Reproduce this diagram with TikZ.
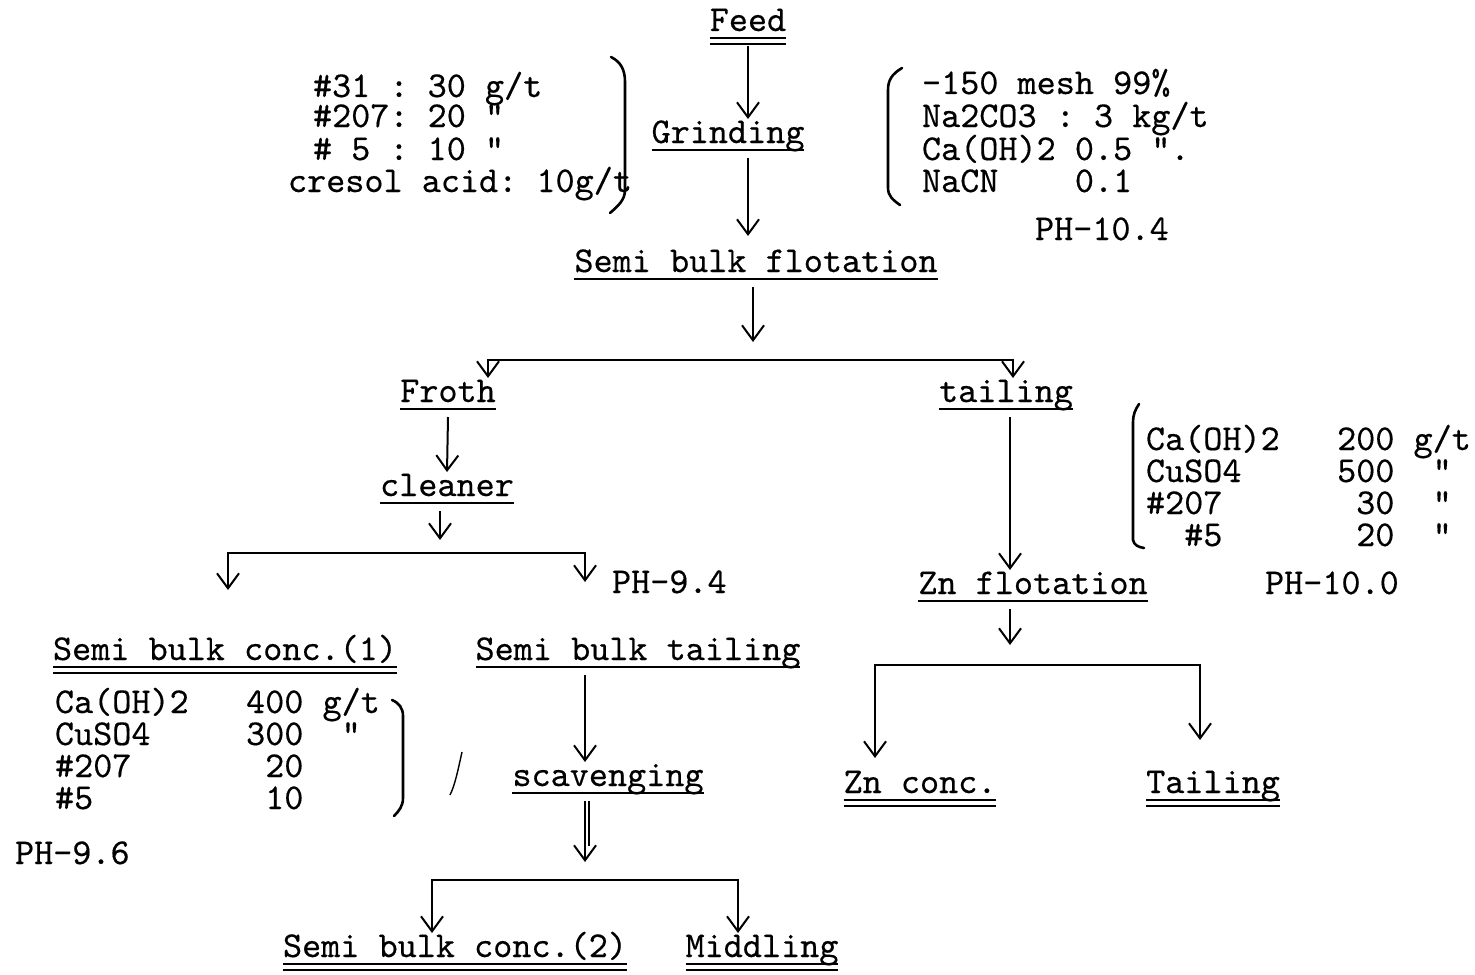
\documentclass[tikz,border=0pt]{standalone}
\usepackage{fontspec}
\setmonofont[FakeBold=0.4]{lmmono10-regular.otf}
\usetikzlibrary{arrows.meta}
\tikzset{
  tw/.style={font=\ttfamily\fontsize{18.2}{20}\selectfont, inner sep=0pt, outer sep=0pt},
  title/.style={tw, anchor=base, text height=12pt, text depth=7.5pt},
  txtline/.style={tw, anchor=base west, text height=11pt, text depth=3pt},
  tipv/.tip={Straight Barb[length=7.5pt,width=11pt,line width=1pt]},
  arr/.style={-tipv, line width=1pt},
  arrtwo/.style={tipv-tipv, line width=1.2pt, line join=miter},
  brk/.style={line width=1.3pt, line cap=round},
  ulin/.style={line width=1.1pt},
}
\newcommand\ulone[1]{\draw[ulin] ([yshift=-3.6pt]#1.base west) -- ([yshift=-3.6pt]#1.base east);}
\newcommand\ultwo[1]{\ulone{#1}\draw[ulin] ([yshift=-6.6pt]#1.base west) -- ([yshift=-6.6pt]#1.base east);}
\begin{document}
\begin{tikzpicture}[x=0.5pt,y=-0.5pt]
\useasboundingbox (0,0) rectangle (1475,974);
\fill[white] (0,0) rectangle (1475,974);

% titles
\node[title] (feed) at (748,31) {Feed};
\node[title] (grind) at (728,143) {Grinding};
\node[title] (sbf) at (756,272) {Semi bulk flotation};
\node[title] (froth) at (448,402) {Froth};
\node[title] (tail1) at (1006,402) {tailing};
\node[title] (clean) at (447,496) {cleaner};
\node[title] (sbc1) at (225,660) {Semi bulk conc.(1)};
\node[title] (sbt) at (638,660) {Semi bulk tailing};
\node[title] (scav) at (608,786) {scavenging};
\node[title] (sbc2) at (455,957) {Semi bulk conc.(2)};
\node[title] (midd) at (762,957) {Middling};
\node[title] (znf) at (1033,594) {Zn flotation};
\node[title] (znc) at (920,793) {Zn conc.};
\node[title] (tail2) at (1213,793) {Tailing};

\ultwo{feed}
\ulone{grind}
\ulone{sbf}
\ulone{froth}
\ulone{tail1}
\ulone{clean}
\ultwo{sbc1}
\ulone{sbt}
\ulone{scav}
\ultwo{sbc2}
\ultwo{midd}
\ulone{znf}
\ultwo{znc}
\ultwo{tail2}

% reagent blocks
\node[txtline] (a1) at (313,97) {\#31 : 30 g/t};
\node[txtline] (a2) at (313,127) {\#207: 20 "};
\node[txtline] (a3) at (313,160) {\# 5 : 10 "};
\node[txtline] (a4) at (288,192) {cresol acid: 10g/t};

\node[txtline] (r1) at (922,94) {-150 mesh 99\%};
\node[txtline] (r2) at (922,127) {Na2CO3 : 3 kg/t};
\node[txtline] (r3) at (922,160) {Ca(OH)2 0.5 ".};
\node[txtline] (r4) at (922,192) {NaCN~~~~0.1};
\node[txtline] (ph1) at (1035,240) {PH-10.4};

\node[txtline] (z1) at (1146,450) {Ca(OH)2~~~200~g/t};
\node[txtline] (z2) at (1146,482) {CuSO4~~~~~500~~"};
\node[txtline] (z3) at (1146,514) {\#207~~~~~~~30~~"};
\node[txtline] (z4) at (1146,546) {~~\#5~~~~~~~20~~"};
\node[txtline] (ph3) at (1265,594) {PH-10.0};

\node[txtline] (c1) at (55,713) {Ca(OH)2~~~400~g/t};
\node[txtline] (c2) at (55,745) {CuSO4~~~~~300~~"};
\node[txtline] (c3) at (55,777) {\#207~~~~~~~20};
\node[txtline] (c4) at (55,809) {\#5~~~~~~~~~10};
\node[txtline] (ph4) at (15,864) {PH-9.6};
\node[txtline] (ph2) at (612,593) {PH-9.4};

% brackets
\draw[brk] (611,57) .. controls (621,62) and (625,70) .. (625,82) -- (625,190) .. controls (625,200) and (618,206) .. (610,213);
\draw[brk] (902,68) .. controls (892,74) and (888,80) .. (888,90) -- (888,188) .. controls (888,196) and (893,200) .. (900,205);
\draw[brk] (1139,404) .. controls (1135,410) and (1133,415) .. (1133,422) -- (1133,540) .. controls (1134,545) and (1138,547) .. (1144,548);
\draw[brk] (392,700) .. controls (399,703) and (403,708) .. (403,716) -- (403,798) .. controls (403,806) and (399,811) .. (394,816);
\draw[line width=0.7pt] (462,752) .. controls (458,770) and (455,785) .. (450,795);

% coordinates
\coordinate (s1) at (753,342);
\coordinate (b1l) at (488,360);
\coordinate (b1r) at (1013,360);
\coordinate (s2) at (440,540);
\coordinate (b2l) at (228,553);
\coordinate (b2r) at (585,553);
\coordinate (e2l) at (228,590);
\coordinate (e2r) at (585,582);
\coordinate (s3) at (585,862);
\coordinate (b3l) at (432,880);
\coordinate (b3r) at (738,880);
\coordinate (s4) at (1010,645);
\coordinate (b4l) at (875,665);
\coordinate (b4r) at (1200,665);
\coordinate (e4l) at (875,758);
\coordinate (e4r) at (1200,740);

% connectors
\draw[arr] (feed.south) -- (feed.south |- grind.north);
\draw[arr, shorten >=6pt] (grind.south -| feed.south) -- (sbf.north -| feed.south);
\draw[arr] (sbf.south -| s1) -- (s1);
\draw[arrtwo] (b1l |- froth.north) -- (b1l) -- (b1r) -- (b1r |- tail1.north);
\draw[arr] (froth.south) -- (clean.north);
\draw[arr] (clean.south -| s2) -- (s2);
\draw[arrtwo] (e2l) -- (b2l) -- (b2r) -- (e2r);
\draw[arr] (sbt.south -| b2r) -- (scav.north -| b2r);
\draw[arr] (scav.south -| s3) -- (s3);
\draw[line width=0.7pt] ([xshift=2pt]scav.south -| s3) -- ([xshift=2pt,yshift=8pt]s3);
\draw[arrtwo] (b3l |- sbc2.north) -- (b3l) -- (b3r) -- (b3r |- midd.north);
\draw[arr] (tail1.south -| s4) -- (znf.north -| s4);
\draw[arr] (znf.south -| s4) -- (s4);
\draw[arrtwo] (e4l) -- (b4l) -- (b4r) -- (e4r);
\end{tikzpicture}
\end{document}
